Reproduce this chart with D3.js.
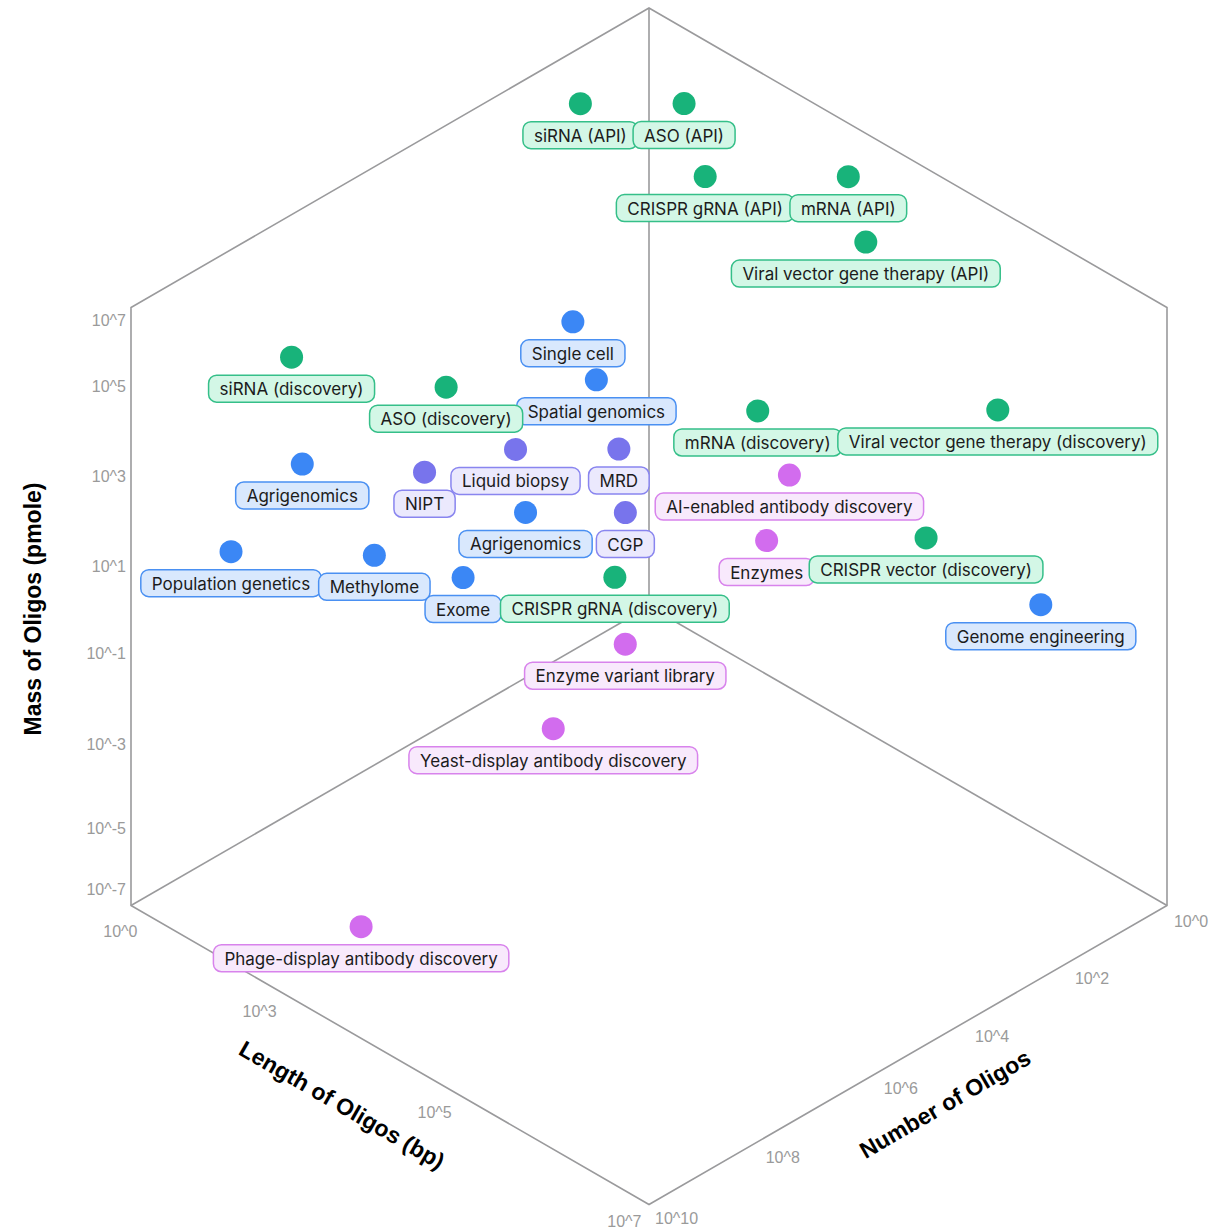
<!DOCTYPE html>
<html>
<head>
<meta charset="utf-8">
<script src="https://cdn.jsdelivr.net/npm/d3@7"></script>
<style>
  html, body { margin: 0; padding: 0; background: #ffffff; }
  svg { display: block; }
</style>
</head>
<body>
<svg id="chart" width="1230" height="1231"></svg>
<script>
// ---------------- DATA ----------------
const names = [
  "Single cell", "Spatial genomics", "Agrigenomics", "Agrigenomics", "Population genetics",
  "Methylome", "Exome", "Genome engineering",
  "NIPT", "Liquid biopsy", "MRD", "CGP",
  "AI-enabled antibody discovery", "Enzymes", "Enzyme variant library",
  "Yeast-display antibody discovery", "Phage-display antibody discovery",
  "siRNA (API)", "ASO (API)", "CRISPR gRNA (API)", "mRNA (API)", "Viral vector gene therapy (API)",
  "siRNA (discovery)", "ASO (discovery)", "mRNA (discovery)", "Viral vector gene therapy (discovery)",
  "CRISPR vector (discovery)", "CRISPR gRNA (discovery)"
];
const categories = [
  "genomics", "genomics", "genomics", "genomics", "genomics", "genomics", "genomics", "genomics",
  "diagnostics", "diagnostics", "diagnostics", "diagnostics",
  "protein", "protein", "protein", "protein", "protein",
  "therapeutics", "therapeutics", "therapeutics", "therapeutics", "therapeutics",
  "therapeutics", "therapeutics", "therapeutics", "therapeutics", "therapeutics", "therapeutics"
];
// log10 of length of oligos (bp)
const lengthExp = [2, 2, 2, 2, 1.7, 2, 2, 6,
  2, 2, 2, 2,
  3.5, 3.5, 3, 3, 3.5,
  1.3, 1.3, 2, 3.8, 4,
  1.3, 1.3, 3.5, 5.5, 4.7, 2];
// log10 of number of oligos
const numberExp = [3.40, 2.93, 8.59, 4.38, 9.67, 7.31, 5.75, 0.35,
  6.46, 4.60, 2.48, 2.35,
  0.86, 1.32, 3.28, 4.79, 9.18,
  2.60, 0.51, 0.74, 0.20, 0.20,
  8.18, 5.41, 1.50, 0.26, 0.22, 2.56];
// log10 of mass of oligos (pmole)
const massExp = [3.15, 1.56, 3.46, -0.53, 2.07, 0.49, -1.19, -1.09,
  1.71, 1.05, -0.31, -1.82,
  -0.78, -1.94, -3.58, -4.60, -5.65,
  7.82, 6.01, 4.68, 6.13, 4.60,
  5.19, 2.49, 1.11, 2.64, -1.24, -3.12];

const massTicks = [-7, -5, -3, -1, 1, 3, 5, 7];
const massTickLabels = ["10^-7", "10^-5", "10^-3", "10^-1", "10^1", "10^3", "10^5", "10^7"];
const lengthTicks = [0, 3, 5, 7];
const lengthTickLabels = ["10^0", "10^3", "10^5", "10^7"];
const numberTicks = [0, 2, 4, 6, 8, 10];
const numberTickLabels = ["10^0", "10^2", "10^4", "10^6", "10^8", "10^10"];

const categoryKeys = ["genomics", "diagnostics", "protein", "therapeutics"];

// ---------------- STYLE / GEOMETRY ----------------
const palette = {
  genomics:     { dot: "#3b87f5", fill: "#d9e8fd", stroke: "#4a90f2" },
  diagnostics:  { dot: "#7874ec", fill: "#ebe9fd", stroke: "#8985ef" },
  protein:      { dot: "#d26cee", fill: "#f8e9fc", stroke: "#d883ec" },
  therapeutics: { dot: "#18b37a", fill: "#d3f7e6", stroke: "#35bf89" }
};
const colorDot = d3.scaleOrdinal().domain(categoryKeys).range(categoryKeys.map(k => palette[k].dot));
const colorFill = d3.scaleOrdinal().domain(categoryKeys).range(categoryKeys.map(k => palette[k].fill));
const colorStroke = d3.scaleOrdinal().domain(categoryKeys).range(categoryKeys.map(k => palette[k].stroke));

const C = { x: 649, y: 606.5 };   // back corner of the cube
const U = 518, V = 299, H = 598.5;  // isometric half-width, half-rise, height

// axis scales (log exponents -> fraction along edge / height in px)
const lengthScale = d3.scaleLinear().domain(lengthTicks).range([0, 0.2687, 0.6066, 0.973]);
const numberScale = d3.scaleLinear().domain(numberTicks).range([0, 0.191, 0.384, 0.560, 0.788, 0.993]);
const massScale = d3.scaleLinear().domain(massTicks).range([16, 77, 161, 252, 339, 429, 519, 585]);

function project(l, n, m) {
  const a = lengthScale(l), b = numberScale(n), h = massScale(m);
  return [C.x + U * (a - b), C.y + V * (a + b) - h];
}

const svg = d3.select("#chart");

const P = {
  top: [C.x, C.y - H],
  ul: [C.x - U, C.y - V],
  ur: [C.x + U, C.y - V],
  ll: [C.x - U, C.y + V],
  lr: [C.x + U, C.y + V],
  bottom: [C.x, C.y + 2 * V]
};

// ---------------- CUBE FRAME ----------------
const frame = svg.append("g").attr("fill", "none").attr("stroke", "#9a9a9c").attr("stroke-width", 1.6);
const line = d3.line();
frame.append("path").attr("d", line([P.top, P.ur, P.lr, P.bottom, P.ll, P.ul]) + "Z");
frame.append("path").attr("d", line([[C.x, C.y], P.top]));
frame.append("path").attr("d", line([[C.x, C.y], P.ll]));
frame.append("path").attr("d", line([[C.x, C.y], P.lr]));

// ---------------- TICKS ----------------
const tickFont = "'Liberation Sans', Arial, Helvetica, sans-serif";
const ticks = svg.append("g").attr("fill", "#9a9a9a").attr("font-family", tickFont).attr("font-size", 16);

ticks.selectAll("text.mass").data(massTicks).join("text")
  .attr("class", "mass")
  .attr("x", P.ll[0] - 5)
  .attr("y", d => P.ll[1] - massScale(d))
  .attr("text-anchor", "end")
  .attr("dominant-baseline", "central")
  .text((d, i) => massTickLabels[i]);

ticks.selectAll("text.len").data(lengthTicks).join("text")
  .attr("class", "len")
  .attr("x", d => P.ll[0] + U * lengthScale(d) - 10.6)
  .attr("y", d => P.ll[1] + V * lengthScale(d) + 25.5)
  .attr("text-anchor", "middle")
  .attr("dominant-baseline", "central")
  .text((d, i) => lengthTickLabels[i]);

ticks.selectAll("text.num").data(numberTicks).join("text")
  .attr("class", "num")
  .attr("x", d => P.lr[0] - U * numberScale(d) + 24)
  .attr("y", d => P.lr[1] + V * numberScale(d) + 16)
  .attr("text-anchor", "middle")
  .attr("dominant-baseline", "central")
  .text((d, i) => numberTickLabels[i]);

// ---------------- AXIS TITLES ----------------
const titles = svg.append("g").attr("font-family", tickFont).attr("font-size", 23)
  .attr("font-weight", "bold").attr("fill", "#000").attr("text-anchor", "middle")
  .attr("dominant-baseline", "central");
titles.append("text").attr("transform", "translate(33,609) rotate(-90)").text("Mass of Oligos (pmole)");
titles.append("text").attr("transform", "translate(342,1105) rotate(30)").text("Length of Oligos (bp)");
titles.append("text").attr("transform", "translate(945,1104) rotate(-30)").text("Number of Oligos");

// ---------------- POINTS ----------------
const points = names.map((name, i) => {
  const [x, y] = project(lengthExp[i], numberExp[i], massExp[i]);
  return { name, cat: categories[i], x, y };
});

const groups = svg.append("g").selectAll("g.pt").data(points).join("g").attr("class", "pt");

groups.append("circle")
  .attr("cx", d => d.x).attr("cy", d => d.y).attr("r", 11.5)
  .attr("fill", d => colorDot(d.cat));

const labelDy = 31.5, boxH = 27, padX = 11;
groups.each(function(d) {
  const g = d3.select(this);
  const t = g.append("text")
    .attr("x", d.x).attr("y", d.y + labelDy + 0.5)
    .attr("text-anchor", "middle")
    .attr("dominant-baseline", "central")
    .attr("font-family", "Inter, 'Noto Sans', sans-serif")
    .attr("font-size", 17)
    .attr("fill", "#1c1c1c")
    .text(d.name);
  const w = t.node().getComputedTextLength();
  g.insert("rect", "text")
    .attr("x", d.x - w / 2 - padX).attr("y", d.y + labelDy - boxH / 2)
    .attr("width", w + 2 * padX).attr("height", boxH)
    .attr("rx", 8).attr("ry", 8)
    .attr("fill", colorFill(d.cat))
    .attr("stroke", colorStroke(d.cat))
    .attr("stroke-width", 1.5);
});
</script>
</body>
</html>
